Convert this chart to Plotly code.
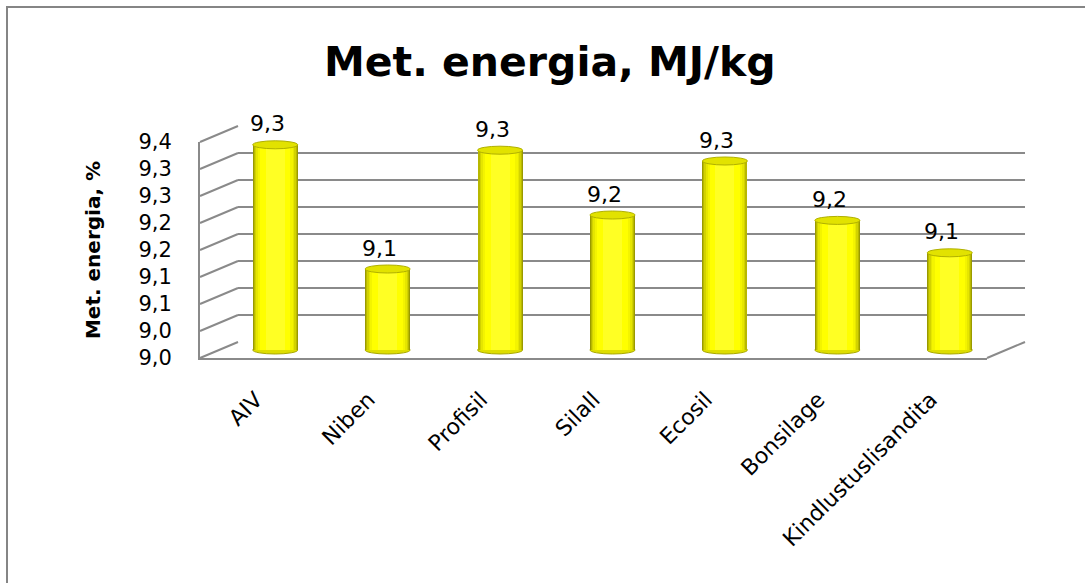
import plotly.graph_objects as go

# ---------------- data ----------------
categories = ["AIV", "Niben", "Profisil", "Silall", "Ecosil", "Bonsilage", "Kindlustuslisandita"]
values = [9.33, 9.10, 9.32, 9.20, 9.30, 9.19, 9.13]
y_tickvals = [8.95, 9.00, 9.05, 9.10, 9.15, 9.20, 9.25, 9.30, 9.35]
y_ticktext = ["9,0", "9,0", "9,1", "9,1", "9,2", "9,2", "9,3", "9,3", "9,4"]
chart_title = "Met. energia, MJ/kg"
y_axis_title = "Met. energia, %"

Y_MIN, Y_MAX = y_tickvals[0], y_tickvals[-1]

# ---------------- layout geometry (pixels) ----------------
W, H = 1085, 583
FRONT_L, FRONT_R = 200, 987
FRONT_T, FRONT_B = 142, 358
DX, DY = 19, 8                      # half-depth shift of the pseudo-3D box
PX_PER_UNIT = (FRONT_B - FRONT_T) / (Y_MAX - Y_MIN)
PAD_PX = 11                         # room below bars for bottom ellipse
PAD = PAD_PX / PX_PER_UNIT
GRID = "#8a8a8a"
FONT = "DejaVu Sans"


def xdom(l, r):
    return [l / W, r / W]


def ydom(t, b):
    return [1 - b / H, 1 - t / H]


def px(x, y):
    return x / W, 1 - y / H


n = len(categories)
idx = list(range(n))
xr = [-0.5, n - 0.5]

fig = go.Figure()

# subplot 1 (back wall) - invisible helper trace
fig.add_trace(go.Scatter(x=idx, y=values, mode="markers", marker=dict(opacity=0),
                         hoverinfo="skip", showlegend=False, xaxis="x", yaxis="y"))

# subplot 2 (bars, mid depth) - cylinder look with nested bars
shade = [(0.40, "#9a9a00"), (0.385, "#b8b800"), (0.365, "#d2d200"), (0.34, "#e6e600"),
         (0.31, "#f4f400"), (0.27, "#ffff00"), (0.17, "#ffff24")]
for w, c in shade:
    fig.add_trace(go.Bar(x=idx, y=[v - Y_MIN for v in values], base=Y_MIN, width=w,
                         marker=dict(color=c, line=dict(width=0)),
                         hoverinfo="skip", showlegend=False, xaxis="x2", yaxis="y2"))

# subplot 3 (front axes) - invisible helper trace
fig.add_trace(go.Scatter(x=idx, y=values, mode="markers", marker=dict(opacity=0),
                         hoverinfo="skip", showlegend=False, xaxis="x3", yaxis="y3"))

shapes = []
E = 4 / PX_PER_UNIT
bw = shade[0][0]
for i, v in enumerate(values):
    # top face
    shapes.append(dict(type="circle", xref="x2", yref="y2", layer="above",
                       x0=i - bw / 2, x1=i + bw / 2, y0=v - E, y1=v + E,
                       fillcolor="#e2e200", line=dict(color="#b0b000", width=1)))
    # bottom curvature
    shapes.append(dict(type="circle", xref="x2", yref="y2", layer="below",
                       x0=i - bw / 2, x1=i + bw / 2, y0=Y_MIN - E, y1=Y_MIN + E,
                       fillcolor="#dede00", line=dict(color="#a8a800", width=1)))

# left wall slanted lines (front -> back) for each tick
for t in y_tickvals:
    yf = FRONT_B - (t - Y_MIN) * PX_PER_UNIT
    x0, y0 = px(FRONT_L, yf)
    x1, y1 = px(FRONT_L + 2 * DX, yf - 2 * DY)
    shapes.append(dict(type="line", xref="paper", yref="paper", x0=x0, y0=y0, x1=x1, y1=y1,
                       line=dict(color=GRID, width=2)))
# floor right edge
x0, y0 = px(FRONT_R, FRONT_B)
x1, y1 = px(FRONT_R + 2 * DX, FRONT_B - 2 * DY)
shapes.append(dict(type="line", xref="paper", yref="paper", x0=x0, y0=y0, x1=x1, y1=y1,
                   line=dict(color=GRID, width=2)))
# outer chart border
bx, by = px(7, 7)
shapes.append(dict(type="path", xref="paper", yref="paper",
                   path=f"M {bx} -0.05 L {bx} {by} L 1.05 {by}",
                   line=dict(color="#858585", width=2)))

annotations = []
for i, v in enumerate(values):
    annotations.append(dict(xref="x2", yref="y2", x=i, y=v, text=f"{v:.1f}".replace(".", ","),
                            showarrow=False, yanchor="middle", xanchor="center",
                            yshift=21, xshift=-8,
                            font=dict(family=FONT, size=22, color="#000000")))
tx, ty = px(550, 62)
annotations.append(dict(xref="paper", yref="paper", x=tx, y=ty, text=f"<b>{chart_title}</b>",
                        showarrow=False, xanchor="center", yanchor="middle",
                        font=dict(family=FONT, size=41, color="#000000")))

hidden = dict(showgrid=False, zeroline=False, showline=False, showticklabels=False, ticks="",
              automargin=False)

fig.update_layout(
    width=W, height=H, autosize=False,
    margin=dict(l=0, r=0, t=0, b=0, pad=0, autoexpand=False),
    paper_bgcolor="#ffffff", plot_bgcolor="rgba(0,0,0,0)",
    barmode="overlay", bargap=0,
    separators=", ",
    showlegend=False,
    shapes=shapes, annotations=annotations,
    xaxis=dict(domain=xdom(FRONT_L + 2 * DX, FRONT_R + 2 * DX), range=xr, anchor="y", **hidden),
    yaxis=dict(domain=ydom(FRONT_T - 2 * DY, FRONT_B - 2 * DY), range=[Y_MIN, Y_MAX], anchor="x",
               tickvals=y_tickvals, showgrid=True, gridcolor=GRID, gridwidth=2, automargin=False,
               zeroline=False, showline=False, showticklabels=False, ticks=""),
    xaxis2=dict(domain=xdom(FRONT_L + DX, FRONT_R + DX), range=xr, anchor="y2", **hidden),
    yaxis2=dict(domain=ydom(FRONT_T - DY, FRONT_B - DY + PAD_PX), range=[Y_MIN - PAD, Y_MAX],
                anchor="x2", **hidden),
    xaxis3=dict(domain=xdom(FRONT_L, FRONT_R), range=xr, anchor="y3", automargin=False,
                tickvals=idx, ticktext=categories, tickangle=-45, ticks="",
                showgrid=False, zeroline=False, showline=True, linecolor=GRID, linewidth=2,
                tickfont=dict(family=FONT, size=22, color="#000000"), ticklabelstandoff=18),
    yaxis3=dict(domain=ydom(FRONT_T, FRONT_B), range=[Y_MIN, Y_MAX], anchor="x3", automargin=False,
                tickvals=y_tickvals, ticktext=y_ticktext, ticks="",
                showgrid=False, zeroline=False, showline=True, linecolor=GRID, linewidth=2,
                tickfont=dict(family=FONT, size=21, color="#000000"), ticklabelstandoff=22,
                title=dict(text=f"<b>{y_axis_title}</b>", standoff=32,
                           font=dict(family=FONT, size=20, color="#000000"))),
)

fig.write_html("out.html")
